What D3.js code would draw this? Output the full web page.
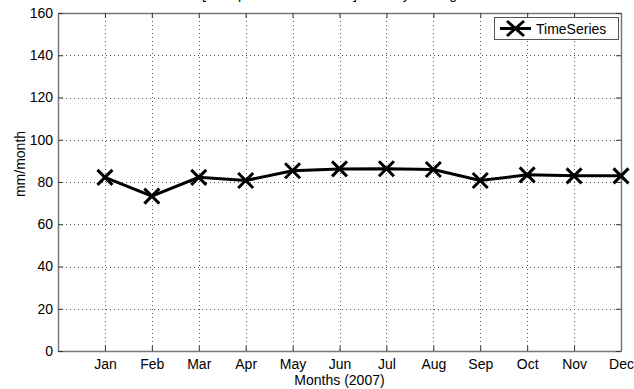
<!DOCTYPE html>
<html>
<head>
<meta charset="utf-8">
<script src="https://cdn.jsdelivr.net/npm/d3@7"></script>
<style>
  body { margin: 0; background: #fff; }
  svg { display: block; font-family: "Liberation Sans", Arial, sans-serif; }
</style>
</head>
<body>
<svg width="634" height="389"></svg>
<script>
// monthly values
var months = ["Jan", "Feb", "Mar", "Apr", "May", "Jun", "Jul", "Aug", "Sep", "Oct", "Nov", "Dec"];
var values = [82.2, 73.3, 82.2, 80.7, 85.3, 86.2, 86.3, 85.9, 80.7, 83.4, 82.9, 82.9];
var yTicks = [0, 20, 40, 60, 80, 100, 120, 140, 160];
var seriesName = "TimeSeries";

var svg = d3.select("svg");
var margin = { left: 58, top: 13, right: 13, bottom: 38 };
var W = 634, H = 389;

var x = d3.scaleLinear().domain([0, 12]).range([margin.left, W - margin.right]);
var y = d3.scaleLinear().domain([0, 160]).range([H - margin.bottom, margin.top]);

// title, mostly cut off above the page
svg.append("text")
  .attr("x", 337).attr("y", -1)
  .attr("text-anchor", "middle")
  .style("font-size", "14px")
  .text("[Precipitation mm/month] Monthly Averages");

// grid
var grid = svg.append("g").attr("stroke", "#555").attr("stroke-width", 1)
  .attr("stroke-dasharray", "1,3");
grid.selectAll("line.v").data(d3.range(1, 12))
  .enter().append("line")
  .attr("x1", function (d) { return Math.round(x(d)) + 0.5; })
  .attr("x2", function (d) { return Math.round(x(d)) + 0.5; })
  .attr("y1", y(160)).attr("y2", y(0));
grid.selectAll("line.h").data(yTicks.slice(1, -1))
  .enter().append("line")
  .attr("y1", function (d) { return Math.round(y(d)) + 0.5; })
  .attr("y2", function (d) { return Math.round(y(d)) + 0.5; })
  .attr("x1", x(0)).attr("x2", x(12));

// axes, MATLAB style ticks inside
var xAxis = d3.axisBottom(x).tickValues(d3.range(1, 13))
  .tickFormat(function (d) { return months[d - 1]; })
  .tickSizeInner(-5).tickSizeOuter(0).tickPadding(8);
var gx = svg.append("g").attr("transform", "translate(0," + y(0) + ")").call(xAxis);

var gxTop = svg.append("g").attr("transform", "translate(0," + y(160) + ")")
  .call(d3.axisTop(x).tickValues(d3.range(1, 13)).tickFormat("").tickSizeInner(-5).tickSizeOuter(0));

var yAxis = d3.axisLeft(y).tickValues(yTicks).tickSizeInner(-5).tickSizeOuter(0).tickPadding(5);
var gy = svg.append("g").attr("transform", "translate(" + x(0) + ",0)").call(yAxis);
var gyR = svg.append("g").attr("transform", "translate(" + x(12) + ",0)")
  .call(d3.axisRight(y).tickValues(yTicks).tickFormat("").tickSizeInner(-5).tickSizeOuter(0));

[gx, gxTop, gy, gyR].forEach(function (g) {
  g.select(".domain").attr("stroke", "#777").attr("stroke-width", 1.5);
  g.selectAll(".tick line").attr("stroke", "#333");
  g.selectAll(".tick text").attr("fill", "#000").style("font-size", "14px").style("font-family", "Liberation Sans, Arial, sans-serif");
});

// axis labels
svg.append("text")
  .attr("x", (x(0) + x(12)) / 2).attr("y", 385)
  .attr("text-anchor", "middle").style("font-size", "14px")
  .text("Months (2007)");
svg.append("text")
  .attr("transform", "translate(25,164) rotate(-90)")
  .attr("text-anchor", "middle").style("font-size", "14px")
  .text("mm/month");

// series
var line = d3.line()
  .x(function (d, i) { return x(i + 1); })
  .y(function (d) { return y(d); });
svg.append("path").datum(values)
  .attr("d", line)
  .attr("fill", "none").attr("stroke", "#000").attr("stroke-width", 3);

function cross(g, cx, cy, r) {
  g.append("path")
    .attr("d", "M" + (cx - r) + "," + (cy - r) + "L" + (cx + r) + "," + (cy + r) +
      "M" + (cx - r) + "," + (cy + r) + "L" + (cx + r) + "," + (cy - r))
    .attr("stroke", "#000").attr("stroke-width", 3).attr("fill", "none");
}
var marks = svg.append("g");
values.forEach(function (v, i) { cross(marks, x(i + 1), y(v), 7.5); });

// legend
var lg = svg.append("g");
lg.append("rect").attr("x", 494.5).attr("y", 17.5).attr("width", 124).attr("height", 22)
  .attr("fill", "#fff").attr("stroke", "#555").attr("stroke-width", 1);
lg.append("line").attr("x1", 500).attr("x2", 531).attr("y1", 28.5).attr("y2", 28.5)
  .attr("stroke", "#000").attr("stroke-width", 3);
lg.append("path")
  .attr("d", "M507,21L524,36M507,36L524,21")
  .attr("stroke", "#000").attr("stroke-width", 3).attr("fill", "none");
lg.append("text").attr("x", 536).attr("y", 33.5).style("font-size", "14px").text(seriesName);
</script>
</body>
</html>
